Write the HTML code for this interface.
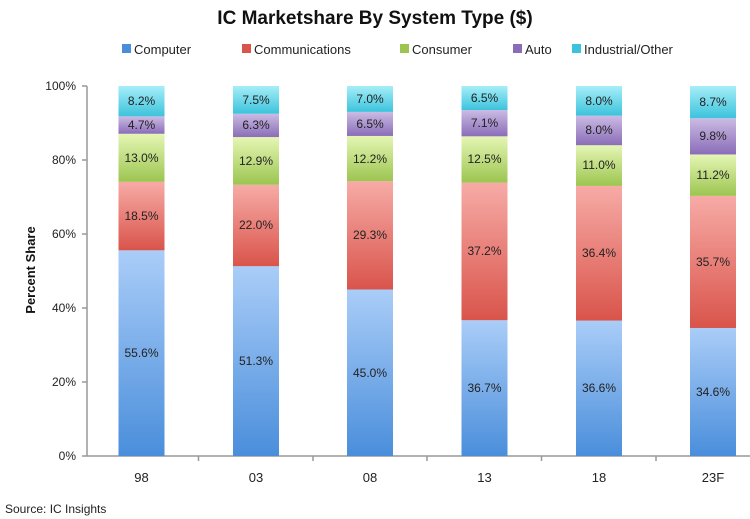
<!DOCTYPE html>
<html><head><meta charset="utf-8"><style>
html,body{margin:0;padding:0;background:#fff;}
svg{display:block;font-family:"Liberation Sans",sans-serif;}
</style></head><body>
<svg width="750" height="519" viewBox="0 0 750 519">
<defs>
<linearGradient id="gc" x1="0" y1="0" x2="0" y2="1"><stop offset="0" stop-color="#aacdf8"/><stop offset="1" stop-color="#4a8edb"/></linearGradient>
<linearGradient id="gm" x1="0" y1="0" x2="0" y2="1"><stop offset="0" stop-color="#f7aba6"/><stop offset="1" stop-color="#d9544b"/></linearGradient>
<linearGradient id="gs" x1="0" y1="0" x2="0" y2="1"><stop offset="0" stop-color="#e5f6b4"/><stop offset="1" stop-color="#9cc550"/></linearGradient>
<linearGradient id="ga" x1="0" y1="0" x2="0" y2="1"><stop offset="0" stop-color="#cbbbe4"/><stop offset="1" stop-color="#8a6db8"/></linearGradient>
<linearGradient id="gi" x1="0" y1="0" x2="0" y2="1"><stop offset="0" stop-color="#a6eef8"/><stop offset="1" stop-color="#3cc3dc"/></linearGradient>
</defs>
<text x="375" y="24" text-anchor="middle" font-size="19" font-weight="bold" fill="#111">IC Marketshare By System Type ($)</text>
<g font-size="13" fill="#222">
<rect x="122" y="44" width="9" height="9" fill="#4a8edb"/><text x="134" y="54">Computer</text>
<rect x="242" y="44" width="9" height="9" fill="#d9544b"/><text x="254" y="54">Communications</text>
<rect x="400" y="44" width="9" height="9" fill="#9cc550"/><text x="412" y="54">Consumer</text>
<rect x="513" y="44" width="9" height="9" fill="#8a6db8"/><text x="525" y="54">Auto</text>
<rect x="572" y="44" width="9" height="9" fill="#3cc3dc"/><text x="584" y="54">Industrial/Other</text>
</g>
<g stroke="#999" stroke-width="1.5">
<line x1="87" y1="86" x2="87" y2="456"/>
<line x1="87" y1="456" x2="750" y2="456"/>
<line x1="82" y1="86" x2="87" y2="86"/><line x1="82" y1="160" x2="87" y2="160"/><line x1="82" y1="234" x2="87" y2="234"/><line x1="82" y1="308" x2="87" y2="308"/><line x1="82" y1="382" x2="87" y2="382"/><line x1="82" y1="456" x2="87" y2="456"/>
<line x1="198.5" y1="456" x2="198.5" y2="461"/><line x1="313" y1="456" x2="313" y2="461"/><line x1="427" y1="456" x2="427" y2="461"/><line x1="541.5" y1="456" x2="541.5" y2="461"/><line x1="656" y1="456" x2="656" y2="461"/>
</g>
<g font-size="12" fill="#222" text-anchor="end">
<text x="76" y="90">100%</text><text x="76" y="164">80%</text><text x="76" y="238">60%</text><text x="76" y="312">40%</text><text x="76" y="386">20%</text><text x="76" y="460">0%</text>
</g>
<text transform="translate(35,270) rotate(-90)" text-anchor="middle" font-size="13" font-weight="bold" fill="#111">Percent Share</text>
<g font-size="13" fill="#222" text-anchor="middle">
<text x="141.5" y="482">98</text><text x="256" y="482">03</text><text x="370" y="482">08</text><text x="484.5" y="482">13</text><text x="599" y="482">18</text><text x="713" y="482">23F</text>
</g>
<text x="5" y="513" font-size="12" fill="#222">Source: IC Insights</text>
<g>
<rect x="118.5" y="250.3" width="46" height="205.7" fill="url(#gc)"/><rect x="118.5" y="181.85" width="46" height="68.45" fill="url(#gm)"/><rect x="118.5" y="133.75" width="46" height="48.1" fill="url(#gs)"/><rect x="118.5" y="116.36" width="46" height="17.39" fill="url(#ga)"/><rect x="118.5" y="86" width="46" height="30.36" fill="url(#gi)"/>
<rect x="233" y="266.19" width="46" height="189.81" fill="url(#gc)"/><rect x="233" y="184.79" width="46" height="81.4" fill="url(#gm)"/><rect x="233" y="137.06" width="46" height="47.73" fill="url(#gs)"/><rect x="233" y="113.75" width="46" height="23.31" fill="url(#ga)"/><rect x="233" y="86" width="46" height="27.75" fill="url(#gi)"/>
<rect x="347" y="289.5" width="46" height="166.5" fill="url(#gc)"/><rect x="347" y="181.09" width="46" height="108.41" fill="url(#gm)"/><rect x="347" y="135.95" width="46" height="45.14" fill="url(#gs)"/><rect x="347" y="111.9" width="46" height="24.05" fill="url(#ga)"/><rect x="347" y="86" width="46" height="25.9" fill="url(#gi)"/>
<rect x="461.5" y="320.21" width="46" height="135.79" fill="url(#gc)"/><rect x="461.5" y="182.57" width="46" height="137.64" fill="url(#gm)"/><rect x="461.5" y="136.32" width="46" height="46.25" fill="url(#gs)"/><rect x="461.5" y="110.05" width="46" height="26.27" fill="url(#ga)"/><rect x="461.5" y="86" width="46" height="24.05" fill="url(#gi)"/>
<rect x="576" y="320.58" width="46" height="135.42" fill="url(#gc)"/><rect x="576" y="185.9" width="46" height="134.68" fill="url(#gm)"/><rect x="576" y="145.2" width="46" height="40.7" fill="url(#gs)"/><rect x="576" y="115.6" width="46" height="29.6" fill="url(#ga)"/><rect x="576" y="86" width="46" height="29.6" fill="url(#gi)"/>
<rect x="690" y="327.98" width="46" height="128.02" fill="url(#gc)"/><rect x="690" y="195.89" width="46" height="132.09" fill="url(#gm)"/><rect x="690" y="154.45" width="46" height="41.44" fill="url(#gs)"/><rect x="690" y="118.19" width="46" height="36.26" fill="url(#ga)"/><rect x="690" y="86" width="46" height="32.19" fill="url(#gi)"/>
</g>
<g font-size="12" fill="#222" text-anchor="middle">
<text x="141.5" y="357">55.6%</text><text x="141.5" y="220">18.5%</text><text x="141.5" y="162">13.0%</text><text x="141.5" y="129">4.7%</text><text x="141.5" y="105">8.2%</text>
<text x="256" y="365">51.3%</text><text x="256" y="229">22.0%</text><text x="256" y="165">12.9%</text><text x="256" y="129">6.3%</text><text x="256" y="104">7.5%</text>
<text x="370" y="377">45.0%</text><text x="370" y="239">29.3%</text><text x="370" y="163">12.2%</text><text x="370" y="128">6.5%</text><text x="370" y="103">7.0%</text>
<text x="484.5" y="392">36.7%</text><text x="484.5" y="255">37.2%</text><text x="484.5" y="163">12.5%</text><text x="484.5" y="127">7.1%</text><text x="484.5" y="102">6.5%</text>
<text x="599" y="392">36.6%</text><text x="599" y="257">36.4%</text><text x="599" y="169">11.0%</text><text x="599" y="134">8.0%</text><text x="599" y="105">8.0%</text>
<text x="713" y="396">34.6%</text><text x="713" y="266">35.7%</text><text x="713" y="179">11.2%</text><text x="713" y="140">9.8%</text><text x="713" y="106">8.7%</text>
</g>
</svg>
</body></html>
